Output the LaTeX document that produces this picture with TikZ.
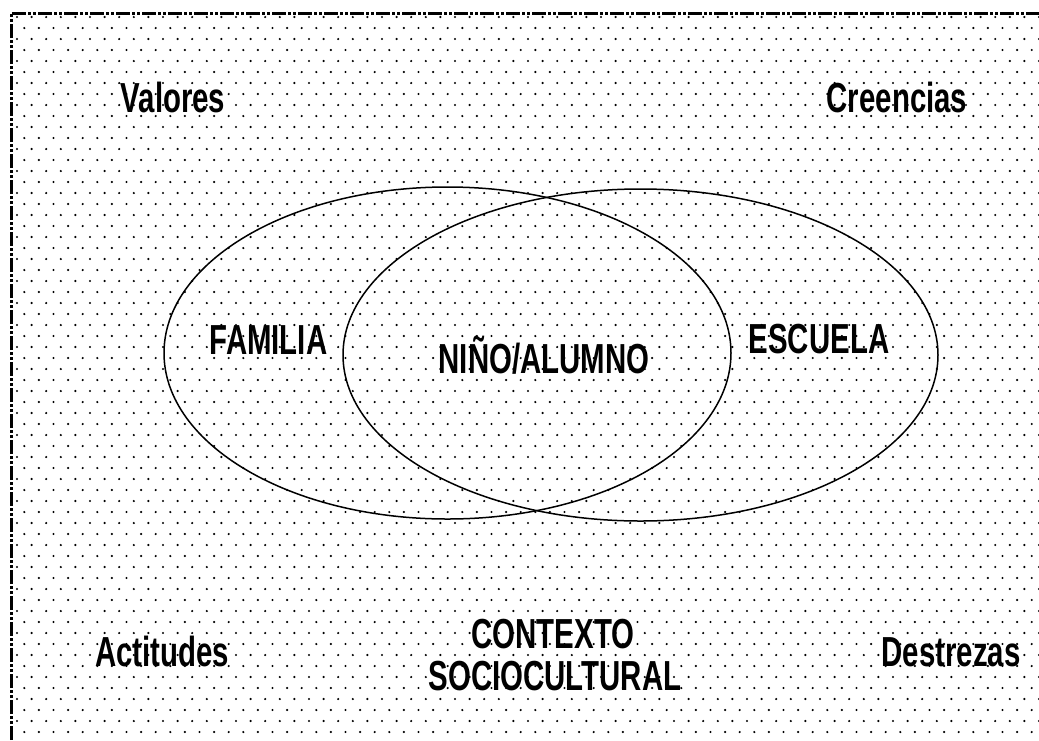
\documentclass[tikz,border=0pt]{standalone}
\usepackage{fontspec}
\newfontfamily\lbl{Liberation Sans}[FakeStretch=0.7]
\usetikzlibrary{shapes.geometric}
\tikzset{
  lab/.style={font=\lbl\bfseries\fontsize{42}{46}\selectfont, inner sep=0pt, anchor=base},
  venn/.style={draw=black, line width=1.5pt, ellipse, inner sep=0pt},
  frameline/.style={line width=3pt, dash pattern=on 14pt off 2pt on 3pt off 2pt on 3pt off 2pt}
}
\begin{document}
\begin{tikzpicture}[x=1pt,y=-1pt]
\useasboundingbox (0,0) rectangle (1039,740);
\fill[white] (0,0) rectangle (1039,740);
% dotted background
\begin{scope}
\clip (14,15) rectangle (1039,740);
\foreach \r in {0,...,66} {
  \pgfmathsetmacro{\yy}{17+11*\r}
  \pgfmathsetmacro{\xo}{17+mod(\r,2)*7.3}
  \fill[black] \foreach \c in {0,...,71} {
    ({\xo+14.6*\c},\yy) circle (1.2)
  };
}
\end{scope}
% frame (top and left only, picture is cropped)
\coordinate (tl) at (11,13);
\coordinate (tr) at (1039,13);
\coordinate (bl) at (11,740);
\draw[frameline] (bl) -- (tl) -- (tr);
% ellipses
\node[venn, minimum width=567pt, minimum height=332pt] (famE) at (447.5,353) {};
\node[venn, minimum width=595pt, minimum height=332pt] (escE) at (640.5,355) {};
% labels
\node[lab] (valores) at (173,112) {Valores};
\node[lab] (creencias) at (897,112) {Creencias};
\node[lab] (familia) at (268.5,354) {FAMILIA};
\node[lab] (nino) at (544,373) {NIÑO/ALUMNO};
\node[lab] (escuela) at (819,353) {ESCUELA};
\node[lab] (actitudes) at (162,666) {Actitudes};
\node[lab] (destrezas) at (951,666) {Destrezas};
\node[lab] (contexto) at (553,648) {CONTEXTO};
\node[lab] (socio) at (555,690) {SOCIOCULTURAL};
\end{tikzpicture}
\end{document}
